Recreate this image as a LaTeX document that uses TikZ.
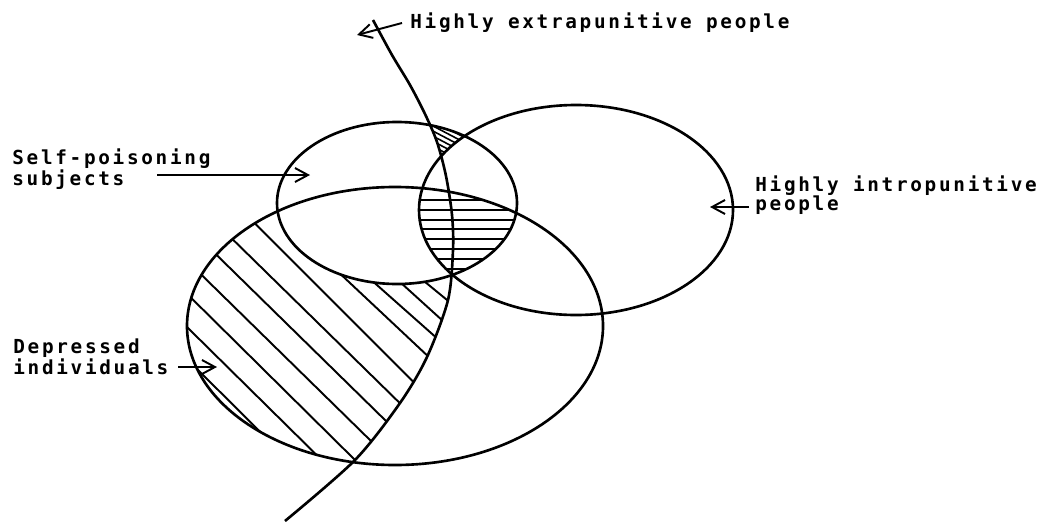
\documentclass[tikz,border=0pt]{standalone}
\usepackage{fontspec}
\usepackage{tikz}
\usetikzlibrary{
  arrows.meta,
  calc
}
\newfontfamily\labelfont[LetterSpace=14]{DejaVu Sans Mono}
\tikzset{
  setline/.style={line width=1.5pt,draw=black},
  hatchline/.style={line width=1.1pt,draw=black},
  labeltext/.style={font={\labelfont\bfseries\fontsize{11pt}{11pt}\selectfont},align=left,inner sep=0pt},
  labelarrow/.style={-{Straight Barb[length=2.6mm,width=2.8mm]},line width=1.1pt,draw=black}
}
\def\selfpoison{(397,203) ellipse [x radius=120,y radius=81]}
\def\intropun{(576,210) ellipse [x radius=157,y radius=105]}
\def\depressed{(395,326) ellipse [x radius=208,y radius=139]}
\def\extrapun{plot[smooth] coordinates {(373,20) (392,55) (410,85) (425,114) (437,142) (446,176) (452,215) (453,250) (448,300) (427,357) (400,403) (355,460) (285,521)}}

\begin{document}
\begin{tikzpicture}[x=0.02cm,y=-0.02cm]
\useasboundingbox (0,0) rectangle (1047,521);

\begin{scope}[even odd rule]
\clip \depressed;
\clip \extrapun -- (0,521) -- (0,0) -- cycle;
\clip (0,0) rectangle (1047,521) \selfpoison;
\foreach \xa/\ya/\xb/\yb in {
  426.7/283.3/445/298.3, 403.3/285/440/318.3, 375/283.3/433.3/335,
  343.3/276.7/426.7/355, 258.3/226.7/413.3/381.7, 236.7/243.3/400/403.3,
  220/258.3/386.7/421.7, 205/278.3/371.7/441.7, 195/301.7/355/460,
  190/330/313.3/451.7, 198/370/261.7/433.3}
  \draw[hatchline] ($(\xa,\ya)!-0.3!(\xb,\yb)$) -- ($(\xb,\yb)!-0.3!(\xa,\ya)$);
\end{scope}

\begin{scope}
\clip \selfpoison;
\clip \intropun;
\clip \depressed;
\foreach \y in {200,209.8,...,290}
  \draw[hatchline] (400,\y) -- (540,\y);
\end{scope}

\begin{scope}[even odd rule]
\clip (0,0) rectangle (1047,200);
\clip \selfpoison;
\clip \extrapun -- (1047,521) -- (1047,0) -- cycle;
\clip (0,0) rectangle (1047,521) \intropun;
\foreach \k in {-6,...,6}
  \draw[hatchline,line width=0.9pt] ({450-2.1*\k-40},{140+4*\k-21}) -- ({450-2.1*\k+40},{140+4*\k+21});
\end{scope}

\draw[setline] \selfpoison;
\draw[setline] \intropun;
\draw[setline] \depressed;
\draw[setline] \extrapun;

\node[labeltext,anchor=base west] (extraLabel) at (410,28) {Highly extrapunitive people};
\node[labeltext,anchor=north west] (selfLabel) at (12,148) {Self-poisoning\\subjects};
\node[labeltext,anchor=north west] (introLabel) at (755,175) {Highly intropunitive\\people};
\node[labeltext,anchor=north west] (depLabel) at (13,338) {Depressed\\individuals};

\coordinate (extraTail) at (402,23);
\coordinate (extraTip) at (357,35);
\coordinate (selfTail) at (157,175);
\coordinate (selfTip) at (310,175);
\coordinate (introTail) at (749,207);
\coordinate (introTip) at (710,207);
\coordinate (depTail) at (178,367);
\coordinate (depTip) at (217,367);

\draw[labelarrow] (extraTail) -- (extraTip);
\draw[labelarrow] (selfTail) -- (selfTip);
\draw[labelarrow] (introTail) -- (introTip);
\draw[labelarrow] (depTail) -- (depTip);
\end{tikzpicture}
\end{document}
